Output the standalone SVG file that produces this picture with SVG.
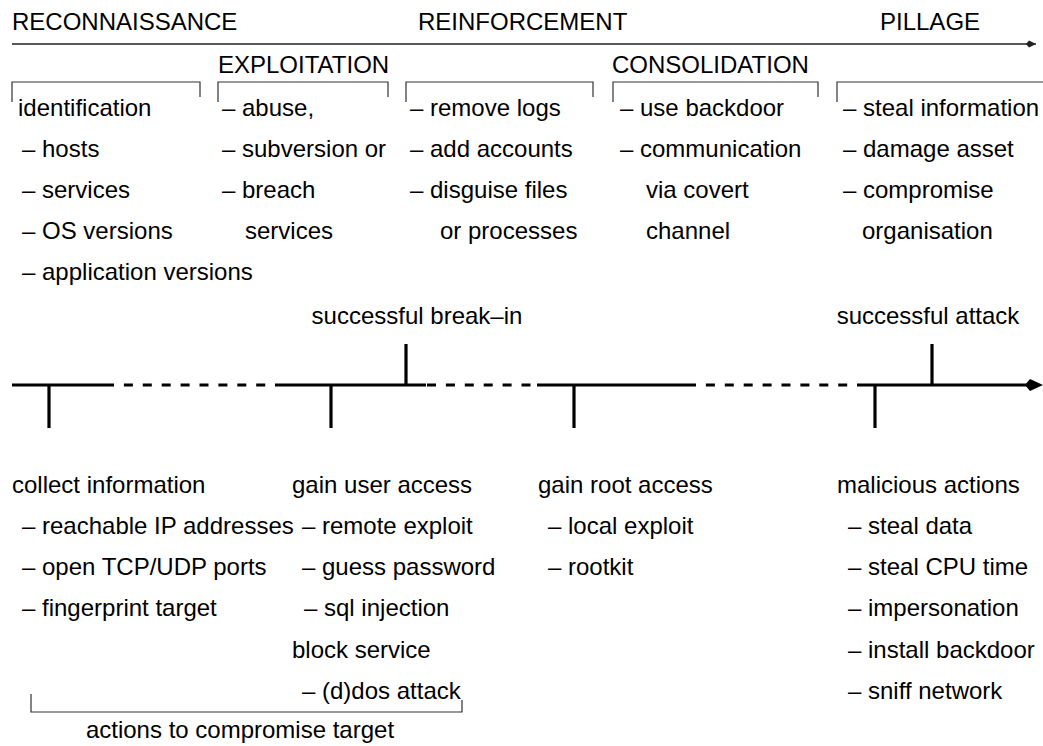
<svg xmlns="http://www.w3.org/2000/svg" width="1043" height="746" viewBox="0 0 1043 746">
<defs>
<style>
text{font-family:"Liberation Sans",Arial,sans-serif;font-size:24px;fill:#000}
.br{fill:none;stroke:#333;stroke-width:1.2}
.tl{stroke:#000;stroke-width:3.2;fill:none}
.dash{stroke-dasharray:9,9.9}
</style>
<marker id="ah" markerWidth="10" markerHeight="8" refX="10" refY="4" orient="auto" markerUnits="userSpaceOnUse"><path d="M0,4 L3,0.5 L10,4 L3,7.5 Z" fill="#222"/></marker>
</defs>
<g id="connectors">
<line x1="12" y1="44" x2="1036" y2="44" stroke="#222" stroke-width="1.4" marker-end="url(#ah)"/>
<line class="tl" x1="12" y1="385" x2="105" y2="385"/>
<line class="tl dash" x1="105" y1="385" x2="275" y2="385"/>
<line class="tl" x1="275" y1="385" x2="426" y2="385"/>
<line class="tl dash" x1="427" y1="385" x2="537" y2="385"/>
<line class="tl" x1="537" y1="385" x2="687" y2="385"/>
<line class="tl dash" x1="687" y1="385" x2="857" y2="385"/>
<line class="tl" x1="857" y1="385" x2="1028" y2="385"/>
<path d="M1025,385 L1030,379 L1043,385 L1030,391 Z" fill="#000"/>
<line class="tl" x1="49" y1="385" x2="49" y2="428"/>
<line class="tl" x1="331" y1="385" x2="331" y2="428"/>
<line class="tl" x1="574" y1="385" x2="574" y2="428"/>
<line class="tl" x1="875" y1="385" x2="875" y2="428"/>
<line class="tl" x1="406" y1="344" x2="406" y2="385"/>
<line class="tl" x1="932" y1="344" x2="932" y2="385"/>
<path class="br" d="M31,694 V712 H462 V700"/>
</g>
<g id="phases">
<text x="12" y="30">RECONNAISSANCE</text>
<text x="418" y="30">REINFORCEMENT</text>
<text x="880" y="30">PILLAGE</text>
<text x="218" y="73">EXPLOITATION</text>
<text x="612" y="73">CONSOLIDATION</text>
</g>
<g id="col-reconnaissance">
<path class="br" d="M12,102 V82 H200 V97"/>
<text x="18" y="116">identification</text>
<text x="22" y="157">– hosts</text>
<text x="22" y="198">– services</text>
<text x="22" y="239">– OS versions</text>
<text x="22" y="280">– application versions</text>
</g>
<g id="col-exploitation">
<path class="br" d="M218,102 V82 H388 V97"/>
<text x="222" y="116">– abuse,</text>
<text x="222" y="157">– subversion or</text>
<text x="222" y="198">– breach</text>
<text x="245" y="239">services</text>
</g>
<g id="col-reinforcement">
<path class="br" d="M406,102 V82 H593 V97"/>
<text x="410" y="116">– remove logs</text>
<text x="410" y="157">– add accounts</text>
<text x="410" y="198">– disguise files</text>
<text x="440" y="239">or processes</text>
</g>
<g id="col-consolidation">
<path class="br" d="M613,102 V82 H818 V97"/>
<text x="620" y="116">– use backdoor</text>
<text x="620" y="157">– communication</text>
<text x="646" y="198">via covert</text>
<text x="646" y="239">channel</text>
</g>
<g id="col-pillage">
<path class="br" d="M837,102 V82 H1043"/>
<text x="843" y="116">– steal information</text>
<text x="843" y="157">– damage asset</text>
<text x="843" y="198">– compromise</text>
<text x="862" y="239">organisation</text>
</g>
<g id="milestone-breakin"><text x="417" y="324" text-anchor="middle">successful break–in</text></g>
<g id="milestone-attack"><text x="928" y="324" text-anchor="middle">successful attack</text></g>
<g id="step-collect">
<text x="12" y="493">collect information</text>
<text x="22" y="534">– reachable IP addresses</text>
<text x="22" y="575">– open TCP/UDP ports</text>
<text x="22" y="616">– fingerprint target</text>
</g>
<g id="step-user">
<text x="292" y="493">gain user access</text>
<text x="302" y="534">– remote exploit</text>
<text x="302" y="575">– guess password</text>
<text x="304" y="616">– sql injection</text>
<text x="292" y="658">block service</text>
<text x="302" y="699">– (d)dos attack</text>
</g>
<g id="step-root">
<text x="538" y="493">gain root access</text>
<text x="548" y="534">– local exploit</text>
<text x="548" y="575">– rootkit</text>
</g>
<g id="step-malicious">
<text x="837" y="493">malicious actions</text>
<text x="848" y="534">– steal data</text>
<text x="848" y="575">– steal CPU time</text>
<text x="848" y="616">– impersonation</text>
<text x="848" y="658">– install backdoor</text>
<text x="848" y="699">– sniff network</text>
</g>
<g id="bracket-label"><text x="240" y="738" text-anchor="middle">actions to compromise target</text></g>
</svg>
